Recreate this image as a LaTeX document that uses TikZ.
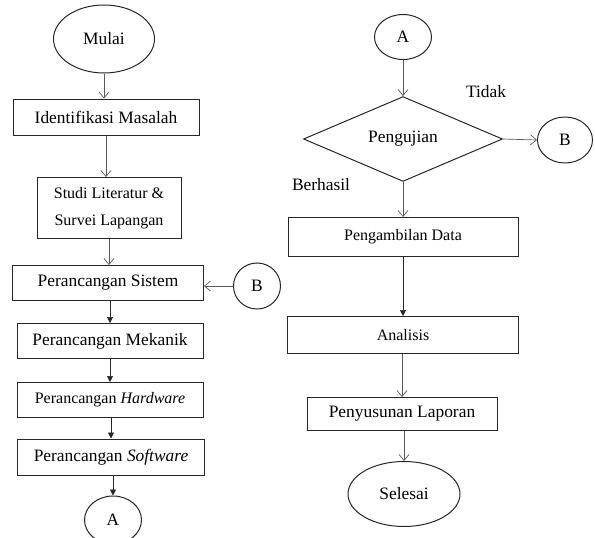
\documentclass[tikz,border=0pt]{standalone}
\usepackage{fontspec}
\setmainfont{Liberation Serif}
\usetikzlibrary{positioning, arrows.meta, shapes.geometric}

\begin{document}
\begin{tikzpicture}[x=1pt, y=-1pt,
        proc/.style={rectangle, draw=black!85, line width=1pt, inner sep=0pt, font=\fontsize{17.4}{21}\selectfont},
        procsm/.style={proc, font=\fontsize{16}{27}\selectfont, align=center},
        term/.style={ellipse, draw=black!85, line width=1pt, inner sep=0pt, font=\fontsize{17.4}{21}\selectfont},
        dec/.style={diamond, draw=black!85, line width=1pt, inner sep=0pt, font=\fontsize{17.4}{21}\selectfont},
        lbl/.style={font=\fontsize{17.4}{21}\selectfont},
        flow/.style={draw=black!65, line width=0.7pt, -{Straight Barb[length=6pt, width=10pt]}},
        flowb/.style={draw=black!85, line width=0.7pt, -{Triangle[length=6pt, width=6pt]}},
    ]
    \useasboundingbox (0,0) rectangle (595,538);

    % Left column
    \node[term, minimum width=101pt, minimum height=68pt] (mulai) at (104,39) {Mulai};
    \node[proc, minimum width=186pt, minimum height=36pt] (ident) at (106,117) {Identifikasi Masalah};
    \node[procsm, minimum width=144pt, minimum height=61pt] (studi) at (109,208) {Studi Literatur \&\\Survei Lapangan};
    \node[proc, minimum width=191pt, minimum height=35pt] (sistem) at (108,283) {Perancangan Sistem};
    \node[term, minimum width=47pt, minimum height=46pt] (bleft) at (257,286) {B};
    \node[proc, minimum width=186pt, minimum height=35pt] (mekanik) at (110,341) {Perancangan Mekanik};
    \node[proc, font=\fontsize{16}{21}\selectfont, minimum width=186pt, minimum height=35pt] (hardware) at (110,400) {Perancangan \textit{Hardware}};
    \node[proc, minimum width=187pt, minimum height=36pt] (software) at (111,457) {Perancangan \textit{Software}};
    \node[term, minimum width=57pt, minimum height=48pt] (aleft) at (113,520) {A};

    % Right column
    \node[term, minimum width=57pt, minimum height=45pt] (aright) at (403,37) {A};
    \node[dec, minimum width=199pt, minimum height=75pt] (uji) at (403,139) {Pengujian};
    \node[term, minimum width=55pt, minimum height=46pt] (bright) at (565,140) {B};
    \node[lbl] (tidak) at (486,92) {Tidak};
    \node[lbl] (berhasil) at (321,185) {Berhasil};
    \node[procsm, minimum width=230pt, minimum height=39pt] (ambil) at (403,237) {Pengambilan Data};
    \node[procsm, minimum width=231pt, minimum height=37pt] (analisis) at (403,335) {Analisis};
    \node[proc, minimum width=190pt, minimum height=33pt] (susun) at (402,414) {Penyusunan Laporan};
    \node[term, minimum width=112pt, minimum height=65pt] (selesai) at (404,494) {Selesai};

    % Connectors
    \draw[flow] (mulai.south) -- (mulai.south |- ident.north);
    \draw[flow] (ident.south) -- (ident.south |- studi.north);
    \draw[flow] (studi.south) -- (studi.south |- sistem.north);
    \draw[flow] (bleft.west) -- (bleft.west -| sistem.east);
    \draw[flowb] (sistem.south -| mekanik.north) -- (mekanik.north);
    \draw[flowb] (mekanik.south) -- (hardware.north);
    \draw[flowb] (hardware.south -| software.north) -- (software.north);
    \draw[flowb] (software.south -| aleft.north) -- (aleft.north);

    \draw[flow] (aright.south) -- (uji.north);
    \draw[flow] (uji.east) -- (bright.west);
    \draw[flow] (uji.south) -- (ambil.north);
    \draw[flowb] (ambil.south) -- (analisis.north);
    \draw[flow] (analisis.south -| susun.north) -- (susun.north);
    \draw[flow] (susun.south -| selesai.north) -- (selesai.north);
\end{tikzpicture}
\end{document}
